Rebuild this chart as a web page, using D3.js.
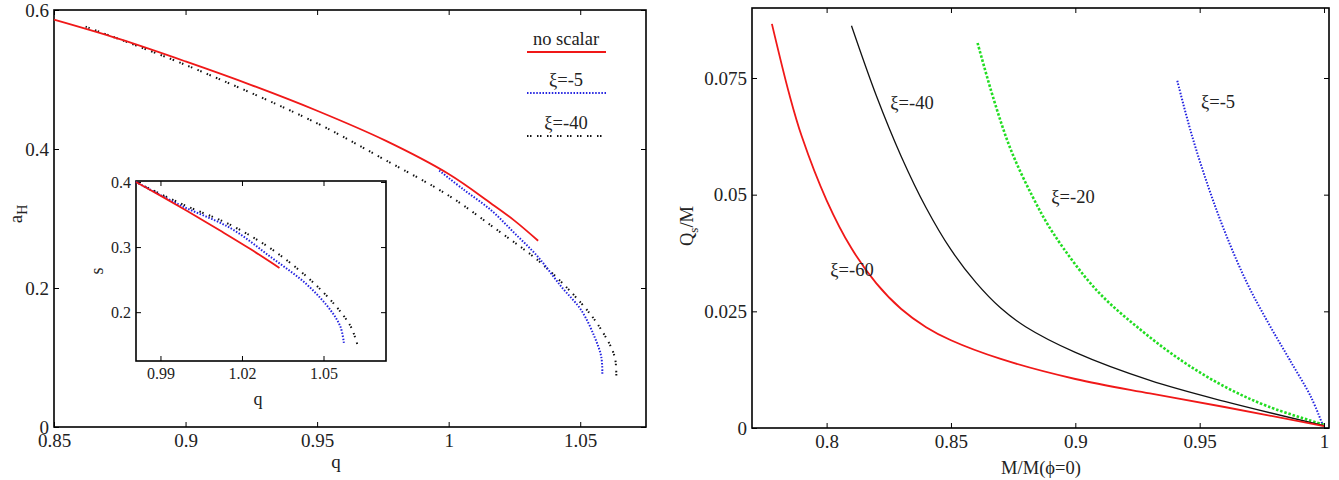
<!DOCTYPE html>
<html>
<head>
<meta charset="utf-8">
<script src="https://cdn.jsdelivr.net/npm/d3@7"></script>
<style>
  body { margin: 0; background: #fff; }
  svg { display: block; font-family: "Liberation Serif", serif; }
  .domain { display: none; }
  .tick line { stroke: #000; stroke-width: 1; }
</style>
</head>
<body>
<div id="chart"></div>
<script>
// left panel, a_H vs q
const mainNoScalar = [[0.85,0.586],[0.875,0.558],[0.9,0.526],[0.925,0.492],[0.95,0.455],[0.976,0.412],[1.0,0.364],[1.016,0.322],[1.025,0.297],[1.034,0.268]];
const mainXi5 = [[0.9964,0.369],[1.0059,0.341],[1.0161,0.312],[1.025,0.279],[1.0339,0.245],[1.0428,0.202],[1.0504,0.168],[1.0554,0.13],[1.058,0.101],[1.0584,0.076]];
const mainXi40 = [[0.862,0.576],[0.9,0.521],[0.95,0.437],[0.975,0.386],[1.0,0.333],[1.0186,0.283],[1.0351,0.236],[1.0504,0.178],[1.058,0.14],[1.0631,0.101],[1.0637,0.068]];
const mainXTicks = [0.85, 0.9, 0.95, 1, 1.05];
const mainYTicks = [0, 0.2, 0.4, 0.6];

// inset, s vs q
const insetNoScalar = [[0.981,0.4],[0.99,0.379],[1.0,0.355],[1.0121,0.325],[1.0231,0.297],[1.0338,0.268]];
const insetXi5 = [[0.981,0.4],[0.9974,0.364],[1.0158,0.329],[1.0305,0.285],[1.044,0.242],[1.0526,0.203],[1.0562,0.178],[1.0575,0.153]];
const insetXi40 = [[0.981,0.4],[0.9974,0.367],[1.0158,0.334],[1.0305,0.298],[1.044,0.254],[1.0538,0.213],[1.06,0.178],[1.0624,0.151]];
const insetXTicks = [0.99, 1.02, 1.05];
const insetYTicks = [0.2, 0.3, 0.4];

// right panel, Q_s/M vs M/M(phi=0)
const xi60 = [[0.778,0.0866],[0.785,0.0715],[0.79,0.0625],[0.8,0.0488],[0.81,0.0385],[0.82,0.031],[0.83,0.0255],[0.84,0.0216],[0.85,0.0188],[0.87,0.0148],[0.9,0.0105],[0.93,0.0074],[0.96,0.0045],[1.0,0.0004]];
const xi40 = [[0.81,0.0862],[0.82,0.0712],[0.83,0.0582],[0.84,0.0472],[0.85,0.0382],[0.86,0.0312],[0.87,0.0257],[0.88,0.0217],[0.9,0.0162],[0.93,0.0102],[0.96,0.0057],[1.0,0.0005]];
const xi20 = [[0.8607,0.0825],[0.8672,0.0704],[0.8741,0.0596],[0.8828,0.0496],[0.8914,0.0415],[0.9086,0.0295],[0.9259,0.0212],[0.9431,0.0143],[0.9603,0.0088],[0.9776,0.0046],[1.0,0.0007]];
const xi5 = [[0.941,0.0744],[0.9466,0.0632],[0.9534,0.0518],[0.9603,0.0418],[0.969,0.0311],[0.9776,0.0225],[0.9862,0.0146],[0.9948,0.0066],[0.9995,0.0006]];
const rightXTicks = [0.8, 0.85, 0.9, 0.95, 1];
const rightYTicks = [0, 0.025, 0.05, 0.075];

const fmt = d3.format("~");
const serif = "Liberation Serif, serif";

const svg = d3.select("#chart").append("svg")
  .attr("width", 1339)
  .attr("height", 480);

svg.append("rect").attr("width", 1339).attr("height", 480).attr("fill", "#fff");

// boxed panel with inward ticks on all four sides
let panel = (x, y, xTicks, yTicks, fontSize) => {
  const g = svg.append("g");
  const [x0, x1] = x.range();
  const [y0, y1] = y.range();
  g.append("rect")
    .attr("x", x0).attr("y", y1)
    .attr("width", x1 - x0).attr("height", y0 - y1)
    .attr("fill", "#fff");
  g.append("g").attr("transform", `translate(0,${y0})`)
    .call(d3.axisBottom(x).tickValues(xTicks).tickFormat(fmt).tickSizeInner(-5).tickSizeOuter(0).tickPadding(7));
  g.append("g").attr("transform", `translate(0,${y1})`)
    .call(d3.axisTop(x).tickValues(xTicks).tickFormat("").tickSizeInner(-5).tickSizeOuter(0));
  g.append("g").attr("transform", `translate(${x0},0)`)
    .call(d3.axisLeft(y).tickValues(yTicks).tickFormat(fmt).tickSizeInner(-5).tickSizeOuter(0).tickPadding(5));
  g.append("g").attr("transform", `translate(${x1},0)`)
    .call(d3.axisRight(y).tickValues(yTicks).tickFormat("").tickSizeInner(-5).tickSizeOuter(0));
  g.selectAll(".tick text")
    .attr("font-family", serif)
    .attr("font-size", fontSize)
    .attr("fill", "#222");
  g.append("rect")
    .attr("x", x0).attr("y", y1)
    .attr("width", x1 - x0).attr("height", y0 - y1)
    .attr("fill", "none").attr("stroke", "#000").attr("stroke-width", 1.6);
  return g;
};

let drawCurve = (g, x, y, pts, color, width, dash) => {
  const line = d3.line()
    .x(d => x(d[0]))
    .y(d => y(d[1]))
    .curve(d3.curveCatmullRom.alpha(0.5));
  g.append("path")
    .datum(pts)
    .attr("d", line)
    .attr("fill", "none")
    .attr("stroke", color)
    .attr("stroke-width", width)
    .attr("stroke-dasharray", dash);
};

let label = (x, y, size, text, rotate) => svg.append("text")
  .attr("transform", `translate(${x},${y})` + (rotate ? " rotate(-90)" : ""))
  .attr("text-anchor", "middle")
  .attr("font-family", serif)
  .attr("font-size", size)
  .attr("fill", "#222")
  .text(text);

const red = "#f01818", blue = "#2424e0", green = "#22dd22";
const dotted = "1.5,1.6";
const pairDots = "1.5,1.5,1.5,5.5";

// ---- left panel ----
const xL = d3.scaleLinear().domain([0.85, 1.075]).range([54, 646]);
const yL = d3.scaleLinear().domain([0, 0.6]).range([427, 10]);
const gL = panel(xL, yL, mainXTicks, mainYTicks, 19);
drawCurve(gL, xL, yL, mainXi40, "#111", 2, pairDots);
drawCurve(gL, xL, yL, mainXi5, blue, 2, dotted);
drawCurve(gL, xL, yL, mainNoScalar, red, 1.8, null);

label(336, 468, 19, "q");
const aH = label(22, 214, 19, "a", true);
aH.append("tspan").attr("dy", 5).attr("font-size", 14).text("H");

// legend
const legend = [
  { label: "no scalar", color: red, dash: null, y: 45 },
  { label: "ξ=-5", color: blue, dash: dotted, y: 86 },
  { label: "ξ=-40", color: "#111", dash: pairDots, y: 129 }
];
legend.forEach(d => {
  label(566, d.y, 18.5, d.label);
  svg.append("line").attr("x1", 527).attr("x2", 606)
    .attr("y1", d.y + 7).attr("y2", d.y + 7)
    .attr("stroke", d.color).attr("stroke-width", 2).attr("stroke-dasharray", d.dash);
});

// ---- inset ----
const xI = d3.scaleLinear().domain([0.981, 1.073]).range([136, 386]);
const yI = d3.scaleLinear().domain([0.125, 0.4015]).range([361, 181]);
const gI = panel(xI, yI, insetXTicks, insetYTicks, 16);
drawCurve(gI, xI, yI, insetXi40, "#111", 2, pairDots);
drawCurve(gI, xI, yI, insetXi5, blue, 2, dotted);
drawCurve(gI, xI, yI, insetNoScalar, red, 1.8, null);
label(258, 405, 18, "q");
label(103, 271, 18, "s", true);

// ---- right panel ----
const xR = d3.scaleLinear().domain([0.77, 1.002]).range([752, 1329]);
const yR = d3.scaleLinear().domain([0, 0.09]).range([428, 8]);
const gR = panel(xR, yR, rightXTicks, rightYTicks, 19);
drawCurve(gR, xR, yR, xi5, blue, 2, dotted);
drawCurve(gR, xR, yR, xi20, green, 2.6, "2.5,1.8");
drawCurve(gR, xR, yR, xi40, "#111", 1.3, null);
drawCurve(gR, xR, yR, xi60, red, 1.8, null);

const curveLabels = [
  { text: "ξ=-40", x: 912, y: 109 },
  { text: "ξ=-20", x: 1073, y: 203 },
  { text: "ξ=-5", x: 1218, y: 108 },
  { text: "ξ=-60", x: 852, y: 276 }
];
curveLabels.forEach(d => label(d.x, d.y, 18.5, d.text));

label(1041, 474, 18.5, "M/M(ϕ=0)");
const qs = label(693, 226, 18.5, "Q", true);
qs.append("tspan").attr("dy", 5).attr("font-size", 13).text("s");
qs.append("tspan").attr("dy", -5).text("/M");
</script>
</body>
</html>
